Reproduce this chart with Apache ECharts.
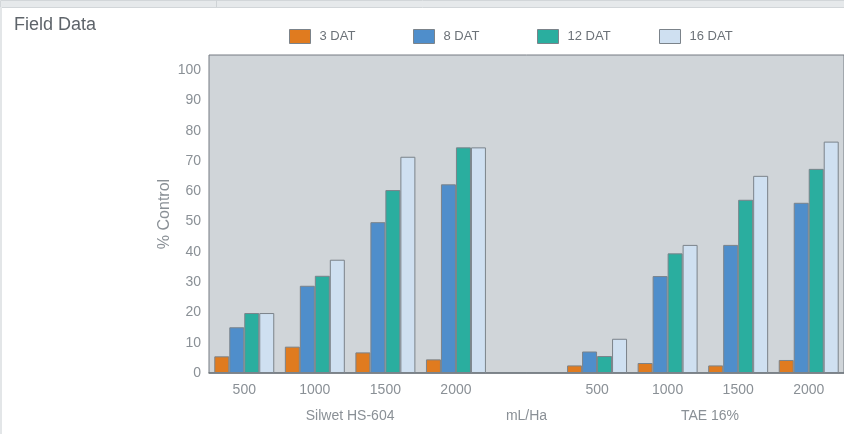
<!DOCTYPE html>
<html>
<head>
<meta charset="utf-8">
<script src="https://cdn.jsdelivr.net/npm/echarts@6/dist/echarts.min.js"></script>
<style>
html,body{margin:0;padding:0;background:#fff;}
#c{width:844px;height:434px;}
</style>
</head>
<body>
<div id="c"></div>
<script>
// ---- data ----
const categories = ['500', '1000', '1500', '2000', '', '500', '1000', '1500', '2000'];
const seriesNames = ['3 DAT', '8 DAT', '12 DAT', '16 DAT'];
const dat3  = [5.5, 8.7, 6.8, 4.5, null, 2.5, 3.3, 2.5, 4.3];
const dat8  = [15.1, 28.8, 49.8, 62.3, null, 7.1, 32.0, 42.3, 56.2];
const dat12 = [19.8, 32.1, 60.4, 74.5, null, 5.6, 39.5, 57.2, 67.4];
const dat16 = [19.8, 37.4, 71.4, 74.5, null, 11.3, 42.3, 65.1, 76.4];
const groupLabels = ['Silwet HS-604', 'mL/Ha', 'TAE 16%'];
const groupLabelPos = [1.5, 4, 6.6];
const yTicks = [0, 10, 20, 30, 40, 50, 60, 70, 80, 90, 100];

const colors = ['#e07b1f', '#4f8ecb', '#2aae9f', '#cfe0f1'];
const values = [dat3, dat8, dat12, dat16];
const legendLeft = [289, 413, 537, 659];
const font = '"Liberation Sans", Arial, sans-serif';
const labelColor = '#8a9096';

const chart = echarts.init(document.getElementById('c'), null, {renderer: 'canvas'});
chart.setOption({
  animation: false,
  backgroundColor: '#ffffff',
  title: {
    text: 'Field Data', left: 9, top: 11,
    textStyle: {fontFamily: font, fontSize: 18, fontWeight: 'normal', color: '#5e646a'}
  },
  graphic: [
    {type: 'rect', left: 0, top: 0, shape: {width: 844, height: 7}, style: {fill: '#e6e9eb', stroke: '#d2d6d9', lineWidth: 1}, silent: true},
    {type: 'rect', left: 216, top: 0, shape: {width: 1, height: 7}, style: {fill: '#cfd3d6'}, silent: true},
    {type: 'rect', left: 0, top: 7, shape: {width: 2, height: 427}, style: {fill: '#e3e6e8'}, silent: true}
  ],
  legend: seriesNames.map((n, i) => ({
    data: [n], left: legendLeft[i], top: 29, padding: 0, itemWidth: 21, itemHeight: 14,
    icon: 'rect',
    itemStyle: {borderColor: '#7b838a', borderWidth: 1},
    textStyle: {fontFamily: font, fontSize: 13, color: '#6c7278', padding: [0, 0, 0, 4]},
    selectedMode: false
  })),
  grid: {
    left: 209, right: -1, top: 55, bottom: 61,
    show: true, backgroundColor: '#d0d5d9', borderColor: '#747b82', borderWidth: 1
  },
  xAxis: [
    {
      type: 'category', data: categories, position: 'bottom',
      axisLine: {show: true, lineStyle: {color: '#6f767c', width: 1.5}},
      axisTick: {show: false},
      axisLabel: {fontFamily: font, fontSize: 14, color: labelColor, margin: 10}
    },
    {
      type: 'value', min: -0.5, max: 8.5, position: 'bottom', offset: 26,
      axisLine: {show: false}, axisTick: {show: false}, splitLine: {show: false},
      axisLabel: {
        customValues: groupLabelPos,
        fontFamily: font, fontSize: 14, color: labelColor, margin: 10,
        formatter: v => { const k = groupLabelPos.indexOf(v); return k >= 0 ? groupLabels[k] : ''; }
      }
    }
  ],
  yAxis: {
    type: 'value', min: 0, max: 105, interval: 10,
    name: '% Control', nameLocation: 'middle', nameGap: 36, nameMoveOverlap: false,
    nameTextStyle: {fontFamily: font, fontSize: 16, color: labelColor},
    axisLine: {show: false}, axisTick: {show: false}, splitLine: {show: false},
    axisLabel: {
      fontFamily: font, fontSize: 14, color: labelColor, margin: 8, showMaxLabel: false,
      formatter: v => (yTicks.indexOf(v) >= 0 ? String(v) : '')
    }
  },
  series: seriesNames.map((n, i) => ({
    name: n, type: 'bar', data: values[i], xAxisIndex: 0,
    barGap: '0%', barCategoryGap: '15%',
    itemStyle: {color: colors[i], borderColor: '#7b838a', borderWidth: 1}
  }))
});
</script>
</body>
</html>
